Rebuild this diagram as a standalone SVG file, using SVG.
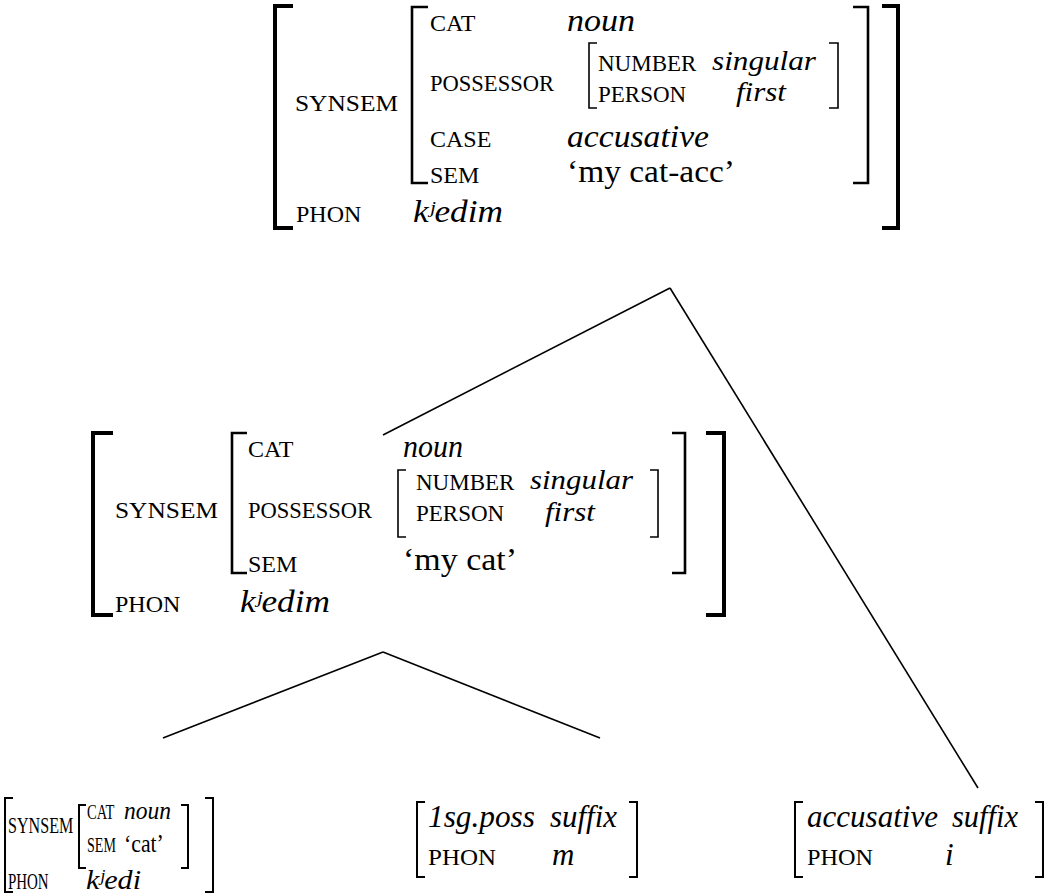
<svg xmlns="http://www.w3.org/2000/svg" width="1051" height="894" viewBox="0 0 1051 894">
<style>
text{font-family:"Liberation Serif","Times New Roman",serif;fill:#000}
.l{font-size:24px}
.s{font-size:23px}
.t{font-size:21px}
.v{font-size:31px;font-style:italic}
.vs{font-size:28px;font-style:italic}
.vt{font-size:25px;font-style:italic}
.u{font-size:32px}
.ut{font-size:25px}
.b{fill:none;stroke:#000}
.b1{stroke-width:4}
.b2{stroke-width:2.6}
.b3{stroke-width:1.6}
.b4{stroke-width:2}
.c{fill:none;stroke:#000;stroke-width:1.6}
</style>
<rect width="1051" height="894" fill="#fff"/>
<g id="connectors">
<path class="c" d="M670,288 L383,435"/>
<path class="c" d="M670,288 L978,788"/>
<path class="c" d="M383,652 L163,738"/>
<path class="c" d="M383,652 L600,738"/>
</g>
<g id="top">
<path class="b b1" d="M293,6H275V228H293"/>
<path class="b b1" d="M882,6H898V228H882"/>
<path class="b b2" d="M428,7H412V183H428"/>
<path class="b b2" d="M853,7H868V183H853"/>
<path class="b b3" d="M597,43H589V108H597"/>
<path class="b b3" d="M829,43H838V108H829"/>
<text class="l" x="295" y="111" textLength="103" lengthAdjust="spacingAndGlyphs">SYNSEM</text>
<text class="l" x="430" y="31">CAT</text>
<text class="v" x="567" y="31" textLength="68" lengthAdjust="spacingAndGlyphs">noun</text>
<text class="l" x="430" y="91" textLength="124" lengthAdjust="spacingAndGlyphs">POSSESSOR</text>
<text class="s" x="598" y="71">NUMBER</text>
<text class="vs" x="712" y="70" textLength="104" lengthAdjust="spacingAndGlyphs">singular</text>
<text class="s" x="598" y="102">PERSON</text>
<text class="vs" x="736" y="101" textLength="50" lengthAdjust="spacingAndGlyphs">first</text>
<text class="l" x="430" y="147">CASE</text>
<text class="v" x="567" y="147" textLength="142" lengthAdjust="spacingAndGlyphs">accusative</text>
<text class="l" x="430" y="183">SEM</text>
<text class="u" x="567" y="182" textLength="168" lengthAdjust="spacingAndGlyphs">‘my cat-acc’</text>
<text class="l" x="296" y="222">PHON</text>
<text class="v" x="413" y="222" textLength="90" lengthAdjust="spacingAndGlyphs">kʲedim</text>
</g>
<g id="middle">
<path class="b b1" d="M113,433H93V615H113"/>
<path class="b b1" d="M706,433H724V615H706"/>
<path class="b b2" d="M247,433H232V573H247"/>
<path class="b b2" d="M672,433H685V573H672"/>
<path class="b b3" d="M406,470H398V537H406"/>
<path class="b b3" d="M650,470H658V537H650"/>
<text class="l" x="115" y="518" textLength="103" lengthAdjust="spacingAndGlyphs">SYNSEM</text>
<text class="l" x="248" y="457">CAT</text>
<text class="v" x="403" y="457" textLength="60" lengthAdjust="spacingAndGlyphs">noun</text>
<text class="l" x="248" y="518" textLength="124" lengthAdjust="spacingAndGlyphs">POSSESSOR</text>
<text class="s" x="416" y="490">NUMBER</text>
<text class="vs" x="530" y="489" textLength="103" lengthAdjust="spacingAndGlyphs">singular</text>
<text class="s" x="416" y="521">PERSON</text>
<text class="vs" x="545" y="521" textLength="50" lengthAdjust="spacingAndGlyphs">first</text>
<text class="l" x="248" y="572">SEM</text>
<text class="u" x="403" y="570" textLength="114" lengthAdjust="spacingAndGlyphs">‘my cat’</text>
<text class="l" x="115" y="612">PHON</text>
<text class="v" x="240" y="612" textLength="90" lengthAdjust="spacingAndGlyphs">kʲedim</text>
</g>
<g id="stem">
<path class="b b4" d="M13,798H5V892H13"/>
<path class="b b4" d="M205,798H213V892H205"/>
<path class="b b4" d="M86,805H79V868H86"/>
<path class="b b4" d="M181,805H188V868H181"/>
<text class="s" transform="translate(8,833) scale(0.7,1)">SYNSEM</text>
<text class="t" transform="translate(87,819) scale(0.69,1)">CAT</text>
<text class="vt" transform="translate(124,819) scale(0.94,1)">noun</text>
<text class="t" transform="translate(87,852) scale(0.67,1)">SEM</text>
<text class="ut" transform="translate(124,852) scale(0.87,1)">‘cat’</text>
<text class="s" transform="translate(8,889) scale(0.65,1)">PHON</text>
<text class="vs" x="86" y="889" textLength="55" lengthAdjust="spacingAndGlyphs">kʲedi</text>
</g>
<g id="poss">
<path class="b b4" d="M425,802H417V877H425"/>
<path class="b b4" d="M629,802H637V877H629"/>
<text class="v" x="428" y="827" textLength="107" lengthAdjust="spacingAndGlyphs">1sg.poss</text>
<text class="v" x="550" y="827" textLength="67" lengthAdjust="spacingAndGlyphs">suffix</text>
<text class="s" x="428" y="865" textLength="68" lengthAdjust="spacingAndGlyphs">PHON</text>
<text class="v" x="552" y="865">m</text>
</g>
<g id="acc">
<path class="b b4" d="M803,802H795V877H803"/>
<path class="b b4" d="M1035,802H1043V877H1035"/>
<text class="v" x="807" y="827" textLength="131" lengthAdjust="spacingAndGlyphs">accusative</text>
<text class="v" x="952" y="827" textLength="66" lengthAdjust="spacingAndGlyphs">suffix</text>
<text class="s" x="807" y="865" textLength="66" lengthAdjust="spacingAndGlyphs">PHON</text>
<text class="v" x="945" y="865">i</text>
</g>
</svg>
